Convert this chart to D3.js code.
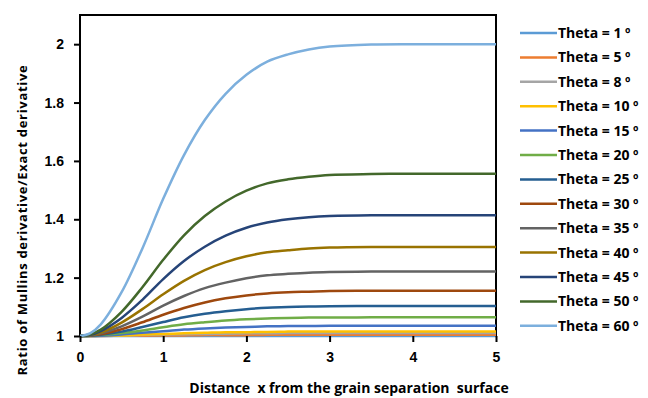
<!DOCTYPE html>
<html>
<head>
<style>
body { margin: 0; background: #fff; }
svg { font-family: "Open Sans", Lato, sans-serif; font-weight: bold; }
.axis path, .axis line { stroke: #000; stroke-width: 2; }
.axis text { font-size: 14px; fill: #000; }
.series { fill: none; stroke-width: 2.5; }
</style>
<script src="https://d3js.org/d3.v7.min.js"></script>
</head>
<body>
<svg width="648" height="398"></svg>
<script>
// x positions along the surface
var xs = [0, 0.125, 0.25, 0.5, 0.75, 1, 1.25, 1.5, 1.75, 2, 2.25, 2.5, 2.75, 3, 3.5, 4, 4.5, 5];

var names = ["Theta = 1 º", "Theta = 5 º", "Theta = 8 º", "Theta = 10 º", "Theta = 15 º",
  "Theta = 20 º", "Theta = 25 º", "Theta = 30 º", "Theta = 35 º", "Theta = 40 º",
  "Theta = 45 º", "Theta = 50 º", "Theta = 60 º"];

var colors = ["#5B9BD5", "#ED7D31", "#A5A5A5", "#FFC000", "#4472C4", "#70AD47", "#255E91",
  "#9E480E", "#636363", "#997300", "#264478", "#43682B", "#7CAFDD"];

var t1  = [1, 1, 1, 1, 1, 1, 1, 1, 1, 1, 1, 1, 1, 1, 1, 1, 1, 1];
var t5  = [1, 1.000, 1.000, 1.001, 1.001, 1.002, 1.002, 1.003, 1.003, 1.003, 1.004, 1.004, 1.004, 1.004, 1.004, 1.004, 1.004, 1.004];
var t8  = [1, 1.000, 1.000, 1.001, 1.003, 1.005, 1.006, 1.007, 1.008, 1.009, 1.009, 1.010, 1.010, 1.010, 1.010, 1.010, 1.010, 1.010];
var t10 = [1, 1.000, 1.001, 1.002, 1.005, 1.007, 1.009, 1.011, 1.013, 1.013, 1.014, 1.015, 1.015, 1.015, 1.015, 1.015, 1.015, 1.015];
var t15 = [1, 1.000, 1.001, 1.005, 1.011, 1.016, 1.022, 1.026, 1.029, 1.031, 1.033, 1.034, 1.034, 1.035, 1.035, 1.035, 1.035, 1.035];
var t20 = [1, 1.001, 1.003, 1.010, 1.019, 1.030, 1.040, 1.047, 1.053, 1.057, 1.060, 1.062, 1.063, 1.063, 1.064, 1.064, 1.064, 1.064];
var t25 = [1, 1.001, 1.004, 1.015, 1.031, 1.048, 1.064, 1.076, 1.085, 1.092, 1.097, 1.099, 1.101, 1.102, 1.103, 1.103, 1.103, 1.103];
var t30 = [1, 1.002, 1.006, 1.023, 1.047, 1.073, 1.096, 1.115, 1.129, 1.139, 1.146, 1.150, 1.152, 1.154, 1.155, 1.155, 1.155, 1.155];
var t35 = [1, 1.002, 1.009, 1.033, 1.066, 1.104, 1.137, 1.164, 1.183, 1.198, 1.208, 1.213, 1.217, 1.219, 1.221, 1.221, 1.221, 1.221];
var t40 = [1, 1.003, 1.012, 1.046, 1.092, 1.143, 1.189, 1.226, 1.253, 1.273, 1.287, 1.294, 1.300, 1.303, 1.305, 1.305, 1.305, 1.305];
var t45 = [1, 1.004, 1.017, 1.062, 1.124, 1.195, 1.257, 1.306, 1.344, 1.371, 1.389, 1.400, 1.407, 1.411, 1.414, 1.414, 1.414, 1.414];
var t50 = [1, 1.006, 1.022, 1.083, 1.167, 1.261, 1.345, 1.411, 1.461, 1.498, 1.523, 1.537, 1.546, 1.552, 1.555, 1.556, 1.556, 1.556];
var t60 = [1, 1.010, 1.040, 1.150, 1.300, 1.470, 1.620, 1.740, 1.830, 1.895, 1.940, 1.965, 1.982, 1.992, 1.999, 2, 2, 2];

var seriesValues = [t1, t5, t8, t10, t15, t20, t25, t30, t35, t40, t45, t50, t60];

var xTicks = [0, 1, 2, 3, 4, 5];
var yTicks = [1, 1.2, 1.4, 1.6, 1.8, 2];

var plotL = 80, plotT = 15, plotR = 496, plotB = 336;
var svg = d3.select("svg");

var x = d3.scaleLinear().domain([0, 5]).range([plotL, plotR]);
var y = d3.scaleLinear().domain([1, 2.1]).range([plotB, plotT]);

// frame
svg.append("rect")
  .attr("x", plotL).attr("y", plotT)
  .attr("width", plotR - plotL).attr("height", plotB - plotT)
  .attr("fill", "none").attr("stroke", "#000").attr("stroke-width", 2);

var line = d3.line()
  .x(function(d, i) { return x(xs[i]); })
  .y(function(d) { return y(d); })
  .curve(d3.curveCatmullRom.alpha(0.5));

svg.append("g").selectAll("path")
  .data(seriesValues)
  .enter().append("path")
  .attr("class", "series")
  .attr("stroke", function(d, i) { return colors[i]; })
  .attr("d", line);

svg.append("g").attr("class", "axis")
  .attr("transform", "translate(0," + plotB + ")")
  .call(d3.axisBottom(x).tickValues(xTicks).tickFormat(d3.format("d")).tickSize(6).tickSizeOuter(0).tickPadding(10));

svg.append("g").attr("class", "axis")
  .attr("transform", "translate(" + plotL + ",0)")
  .call(d3.axisLeft(y).tickValues(yTicks).tickFormat(function(d) { return String(+d.toFixed(1)); }).tickSize(6).tickSizeOuter(0).tickPadding(10));

svg.selectAll(".axis .domain").remove();

// axis titles
svg.append("text")
  .attr("transform", "translate(27,220) rotate(-90)")
  .attr("text-anchor", "middle")
  .attr("font-size", 13)
  .attr("letter-spacing", 0.7)
  .text("Ratio of Mullins derivative/Exact derivative");

svg.append("text")
  .attr("x", 349).attr("y", 393)
  .attr("text-anchor", "middle")
  .attr("font-size", 14)
  .style("white-space", "pre")
  .text("Distance  x from the grain separation  surface");

// legend
var legend = svg.append("g").selectAll("g")
  .data(names)
  .enter().append("g")
  .attr("transform", function(d, i) { return "translate(520," + (33 + i * 24.4) + ")"; });

legend.append("line")
  .attr("x1", 0).attr("x2", 37)
  .attr("stroke", function(d, i) { return colors[i]; })
  .attr("stroke-width", 2.5);

legend.append("text")
  .attr("x", 38).attr("dy", "0.35em")
  .attr("font-size", 14)
  .text(function(d) { return d; });
</script>
</body>
</html>
